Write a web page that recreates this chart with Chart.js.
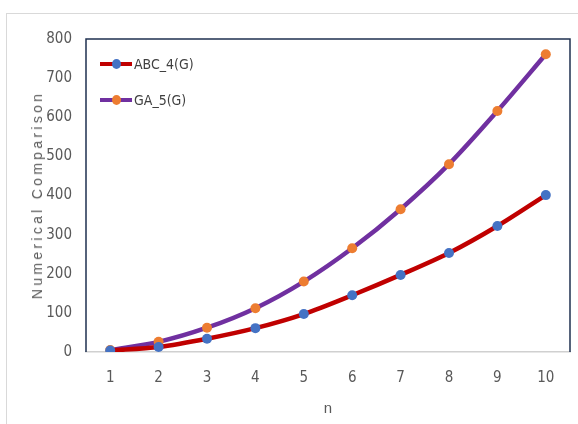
<!DOCTYPE html>
<html>
<head>
<meta charset="utf-8">
<script src="https://cdn.jsdelivr.net/npm/chart.js@4/dist/chart.umd.min.js"></script>
<style>
  html, body { margin: 0; padding: 0; background: #fff; }
  #wrap { position: relative; width: 578px; height: 424px; overflow: hidden; }
  #frame {
    position: absolute; left: 6px; top: 13px; right: -2px; bottom: -2px;
    border-left: 1px solid #d9d9d9; border-top: 1px solid #d9d9d9;
  }
  canvas { position: absolute; left: 0; top: 0; }
  #ytitle {
    position: absolute; left: 37px; top: 195px;
    transform: translate(-50%, -50%) rotate(-90deg);
    white-space: nowrap; color: #595959;
    font: 14px 'Liberation Sans', Arial, sans-serif; letter-spacing: 3.3px;
  }
  .leg { position: absolute; left: 100px; height: 12px; display: flex; align-items: center;
         font: 14px 'DejaVu Sans Condensed', 'Liberation Sans Narrow', 'Liberation Sans', sans-serif;
         font-stretch: condensed; color: #404040; }
  .leg .ln { position: relative; width: 32px; height: 4px; margin-right: 2px; }
  .leg .dt { position: absolute; left: 12px; top: -3px; width: 9px; height: 10px; border-radius: 50%; }
</style>
</head>
<body>
<div id="wrap">
  <div id="frame"></div>
  <canvas id="chart" width="578" height="424"></canvas>
  <div id="ytitle">Numerical Comparison</div>
  <div class="leg" style="top:58px"><span class="ln" style="background:#c00000"><span class="dt" style="background:#4472c4"></span></span>ABC_4(G)</div>
  <div class="leg" style="top:94px"><span class="ln" style="background:#7030a0"><span class="dt" style="background:#ed7d31"></span></span>GA_5(G)</div>
</div>
<script>
/* ── Data ── */
const nLabels = ['1', '2', '3', '4', '5', '6', '7', '8', '9', '10'];
const abc4    = [4, 13, 34, 61, 97, 145, 197, 253, 322, 401];
const ga5     = [5, 26, 62, 112, 180, 265, 365, 480, 616, 761];
const yTicks  = [0, 100, 200, 300, 400, 500, 600, 700, 800];

const TICK_FONT = { family: "'DejaVu Sans Condensed', 'Liberation Sans Narrow', 'Liberation Sans', sans-serif", size: 15 };

/* top + right plot border, dark navy like the original */
const frameBox = {
  id: 'frameBox',
  afterDraw(chart) {
    const { ctx, chartArea: a } = chart;
    ctx.save();
    ctx.strokeStyle = '#1f3050';
    ctx.lineWidth = 1.5;
    ctx.beginPath();
    ctx.moveTo(a.left, a.bottom);
    ctx.lineTo(a.left, a.top);
    ctx.lineTo(a.right, a.top);
    ctx.lineTo(a.right, a.bottom);
    ctx.stroke();
    ctx.restore();
  }
};

new Chart(document.getElementById('chart'), {
  type: 'line',
  data: {
    labels: nLabels,
    datasets: [
      {
        label: 'ABC_4(G)',
        data: abc4,
        borderColor: '#c00000',
        borderWidth: 4.5,
        pointBackgroundColor: '#4472c4',
        pointBorderWidth: 0,
        pointRadius: 5,
        tension: 0.3,
      },
      {
        label: 'GA_5(G)',
        data: ga5,
        borderColor: '#7030a0',
        borderWidth: 4.5,
        pointBackgroundColor: '#ed7d31',
        pointBorderWidth: 0,
        pointRadius: 5,
        tension: 0.3,
      }
    ]
  },
  options: {
    responsive: false,
    animation: false,
    layout: { padding: { top: 39, right: 8, left: 0, bottom: 0 } },
    plugins: { legend: { display: false }, tooltip: { enabled: false } },
    scales: {
      x: {
        offset: true,
        grid: { display: false, drawTicks: false },
        border: { display: true, color: '#d0d0d0', width: 1.5 },
        ticks: { color: '#595959', font: TICK_FONT, padding: 17 },
        title: { display: true, text: 'n', color: '#595959',
                 font: { family: "'Liberation Sans', sans-serif", size: 15 }, padding: { bottom: 6 } },
        afterFit: s => { s.height = 72; }
      },
      y: {
        min: 0, max: 800,
        afterBuildTicks: s => { s.ticks = yTicks.map(v => ({ value: v })); },
        grid: { display: false, drawTicks: false },
        border: { display: false },
        ticks: { color: '#595959', font: TICK_FONT, padding: 14 },
        afterFit: s => { s.width = 86; }
      }
    }
  },
  plugins: [frameBox]
});
</script>
</body>
</html>
